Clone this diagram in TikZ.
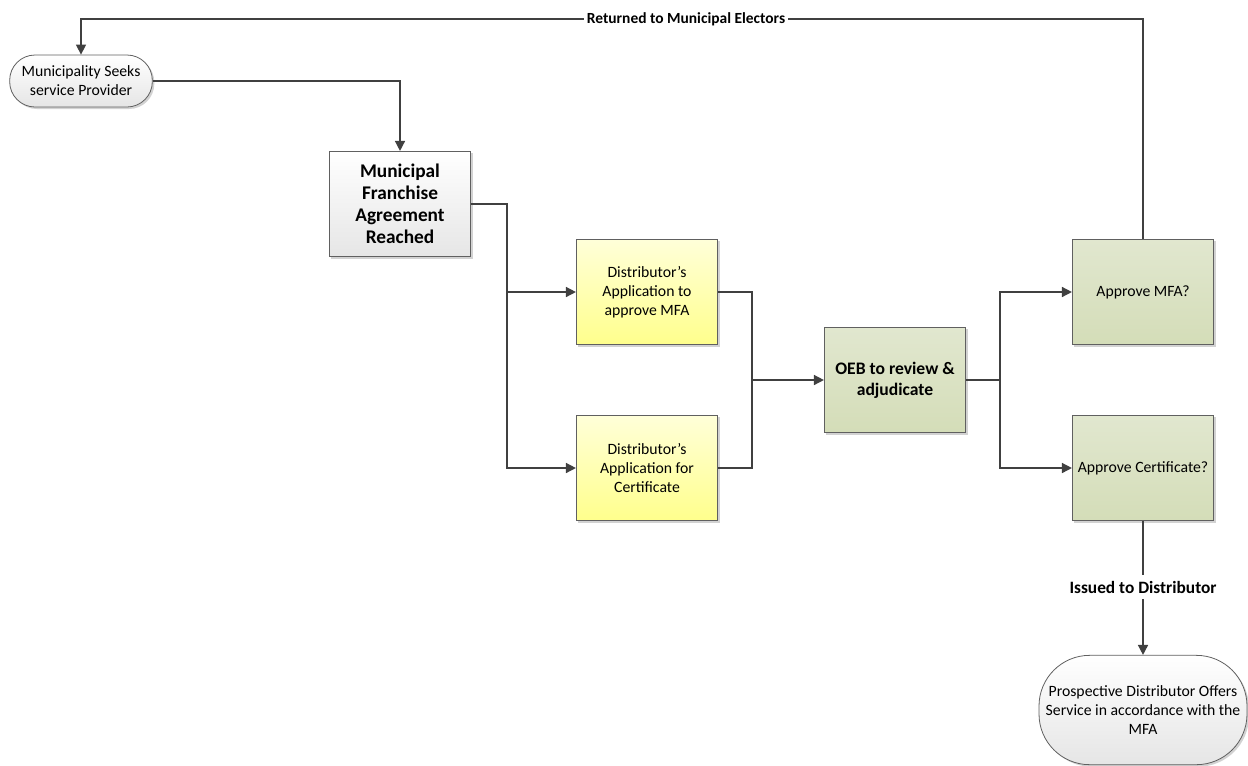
\documentclass[tikz,border=0pt]{standalone}
\usepackage{fontspec}
\setmainfont{Carlito}
\usetikzlibrary{arrows.meta,shadows}

\begin{document}
\begin{tikzpicture}[x=0.75pt, y=-0.75pt,
  box/.style={draw=gray!75!black, line width=0.6pt, minimum width=106pt, minimum height=79pt,
    align=center, font=\fontsize{11.8}{14.3}\selectfont,
    drop shadow={fill=black!35, shadow xshift=1.5pt, shadow yshift=-1.5pt, opacity=0.5}},
  plain/.style={box, top color=white, bottom color=gray!20},
  yel/.style={box, top color=yellow!15, bottom color=yellow!45},
  grn/.style={box, top color={rgb,255:red,225;green,231;blue,207}, bottom color={rgb,255:red,212;green,221;blue,184}},
  pill/.style={plain, rounded corners=#1},
  conn/.style={draw=black!75, line width=1.1pt},
  arr/.style={conn, -{Triangle[length=7.5pt, width=7.5pt]}},
  lbl/.style={fill=white, inner sep=2pt, font=\fontsize{11.6}{13}\selectfont\bfseries}]
  \useasboundingbox (0,0) rectangle (1248,765);

  % nodes
  \node[pill=19pt, minimum width=107pt, minimum height=39pt] (seek) at (81,81) {Municipality Seeks\\service Provider};
  \node[plain, font=\fontsize{14.5}{16.5}\selectfont\bfseries] (mfa) at (400,204) {Municipal\\Franchise\\Agreement\\Reached};
  \node[yel] (app1) at (647,292) {Distributor’s\\Application to\\approve MFA};
  \node[yel] (app2) at (647,468) {Distributor’s\\Application for\\Certificate};
  \node[grn, font=\fontsize{13.2}{15.5}\selectfont\bfseries] (oeb) at (895,380) {OEB to review \&\\adjudicate};
  \node[grn] (mfaok) at (1143,292) {Approve MFA?};
  \node[grn] (certok) at (1143,468) {Approve Certificate?};
  \node[pill=38pt, minimum width=156pt, minimum height=82pt] (offer) at (1143,710) {Prospective Distributor Offers\\Service in accordance with the\\MFA};

  \node[lbl] (ret) at (686,19) {Returned to Municipal Electors};
  \node[lbl, inner sep=4pt, font=\fontsize{13}{15}\selectfont\bfseries] (iss) at (1143,587) {Issued to Distributor};

  \coordinate (s1) at (507,292);
  \coordinate (j1) at (752,380);
  \coordinate (j2) at (1000,380);

  % connectors
  \draw[arr] (seek.east) -| (mfa.north);
  \draw[arr] (mfa.east) -| (s1) -- (app1.west);
  \draw[arr] (s1) |- (app2.west);
  \draw[conn] (app1.east) -| (j1);
  \draw[conn] (app2.east) -| (j1);
  \draw[arr] (j1) -- (oeb.west);
  \draw[conn] (oeb.east) -- (j2);
  \draw[arr] (j2) |- (mfaok.west);
  \draw[arr] (j2) |- (certok.west);
  \draw[conn] (mfaok.north) |- (ret.east);
  \draw[arr] (ret.west) -| (seek.north);
  \draw[conn] (certok.south) -- (iss.north);
  \draw[arr] (iss.south) -- (offer.north);
\end{tikzpicture}
\end{document}
